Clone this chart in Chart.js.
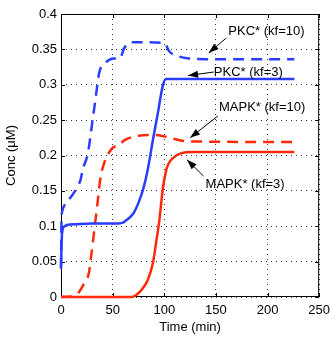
<!DOCTYPE html>
<html>
<head>
<meta charset="utf-8">
<script src="https://cdn.jsdelivr.net/npm/chart.js"></script>
<style>
  html, body { margin: 0; padding: 0; background: #fff; }
  #wrap { width: 336px; height: 339px; position: relative; }
</style>
</head>
<body>
<div id="wrap"><canvas id="concChart"></canvas></div>
<script>
// values (time in min, conc in uM)
const pkc10Time = [0, 0.5, 1, 3.5, 10, 16, 19, 21, 26, 30.6, 33.8, 37, 43, 51, 57.5, 60.6, 64, 67, 80, 100, 105, 114, 125, 140, 226];
const pkc10Conc = [0.04, 0.11, 0.12, 0.13, 0.142, 0.156, 0.166, 0.18, 0.203, 0.25, 0.284, 0.317, 0.331, 0.337, 0.338, 0.35, 0.357, 0.36, 0.36, 0.359, 0.347, 0.34, 0.337, 0.336, 0.336];

const pkc3Time = [0, 1, 3.5, 6.6, 15, 30, 56, 60, 62, 70, 75, 79.5, 84, 89, 93.8, 98.5, 101.6, 110, 226];
const pkc3Conc = [0.042, 0.09, 0.1, 0.102, 0.103, 0.104, 0.104, 0.105, 0.107, 0.118, 0.133, 0.152, 0.18, 0.222, 0.26, 0.298, 0.308, 0.308, 0.308];

const mapk10Time = [0, 14.5, 22.4, 27, 28.7, 31.9, 35, 38, 41.7, 49.5, 56, 62, 68.5, 75, 84, 92, 100, 111, 122, 226];
const mapk10Conc = [0, 0.003, 0.019, 0.034, 0.052, 0.09, 0.128, 0.166, 0.189, 0.21, 0.215, 0.222, 0.226, 0.228, 0.229, 0.229, 0.227, 0.223, 0.22, 0.219];

const mapk3Time = [0, 68.5, 78, 84, 89, 92, 95.3, 98.5, 102, 104, 108, 116, 128.5, 226];
const mapk3Conc = [0, 0, 0.01, 0.024, 0.048, 0.076, 0.109, 0.152, 0.18, 0.188, 0.196, 0.203, 0.205, 0.205];

const xTicks = [0, 50, 100, 150, 200, 250];
const yTicks = ['0', '0.05', '0.1', '0.15', '0.2', '0.25', '0.3', '0.35', '0.4'];

// text labels with arrows, anchored in data units
const notes = [
  { text: 'PKC* (kf=10)', at: [162, 0.375], from: [160, 0.366], to: [143, 0.345] },
  { text: 'PKC* (kf=3)', at: [148, 0.318], from: [148, 0.318], to: [123, 0.313] },
  { text: 'MAPK* (kf=10)', at: [153, 0.268], from: [152, 0.256], to: [125, 0.225] },
  { text: 'MAPK* (kf=3)', at: [140, 0.159], from: [138, 0.171], to: [122, 0.194] },
];

const BLUE = '#2a3dff';
const RED = '#ff2a0a';
const FONT = { family: '"Liberation Sans", Arial, sans-serif', size: 13 };

const pts = (t, v) => t.map((x, i) => ({ x, y: v[i] }));

const series = (data, color, dashed) => ({
  data,
  borderColor: color,
  borderWidth: 2.5,
  borderDash: dashed ? [11, 7] : [],
  pointRadius: 0,
  fill: false,
  clip: 3,
  cubicInterpolationMode: 'monotone',
});

// box, inward tick marks and the arrow labels
const decor = {
  id: 'decor',
  beforeDatasetsDraw(chart) {
    const { ctx, chartArea: a, scales: { x, y } } = chart;
    ctx.save();
    ctx.strokeStyle = '#000';
    ctx.lineWidth = 1;
    ctx.setLineDash([]);
    ctx.strokeRect(a.left + 0.5, a.top + 0.5, a.right - a.left - 1, a.bottom - a.top - 1);
    ctx.beginPath();
    xTicks.forEach((t) => {
      const px = Math.round(x.getPixelForValue(t)) + 0.5;
      ctx.moveTo(px, a.bottom); ctx.lineTo(px, a.bottom - 4);
      ctx.moveTo(px, a.top); ctx.lineTo(px, a.top + 4);
    });
    yTicks.forEach((t) => {
      const py = Math.round(y.getPixelForValue(parseFloat(t))) + 0.5;
      ctx.moveTo(a.left, py); ctx.lineTo(a.left + 4, py);
      ctx.moveTo(a.right, py); ctx.lineTo(a.right - 4, py);
    });
    ctx.stroke();
    ctx.restore();
  },
  afterDatasetsDraw(chart) {
    const { ctx, scales: { x, y } } = chart;
    ctx.save();
    ctx.strokeStyle = '#000';
    ctx.fillStyle = '#000';
    ctx.lineWidth = 1;
    ctx.font = `${FONT.size}px ${FONT.family}`;
    ctx.textBaseline = 'middle';
    ctx.textAlign = 'left';
    notes.forEach((n) => {
      ctx.fillText(n.text, x.getPixelForValue(n.at[0]), y.getPixelForValue(n.at[1]));
      const x1 = x.getPixelForValue(n.from[0]);
      const y1 = y.getPixelForValue(n.from[1]);
      const x2 = x.getPixelForValue(n.to[0]);
      const y2 = y.getPixelForValue(n.to[1]);
      const ang = Math.atan2(y2 - y1, x2 - x1);
      ctx.beginPath();
      ctx.moveTo(x1, y1);
      ctx.lineTo(x2, y2);
      ctx.stroke();
      ctx.beginPath();
      ctx.moveTo(x2, y2);
      ctx.lineTo(x2 - 10 * Math.cos(ang) + 3.5 * Math.sin(ang), y2 - 10 * Math.sin(ang) - 3.5 * Math.cos(ang));
      ctx.lineTo(x2 - 10 * Math.cos(ang) - 3.5 * Math.sin(ang), y2 - 10 * Math.sin(ang) + 3.5 * Math.cos(ang));
      ctx.closePath();
      ctx.fill();
    });
    ctx.restore();
  },
};

new Chart(document.getElementById('concChart'), {
  type: 'line',
  data: {
    datasets: [
      series(pts(pkc3Time, pkc3Conc), BLUE, false),
      series(pts(mapk3Time, mapk3Conc), RED, false),
      series(pts(pkc10Time, pkc10Conc), BLUE, true),
      series(pts(mapk10Time, mapk10Conc), RED, true),
    ],
  },
  options: {
    responsive: true,
    maintainAspectRatio: false,
    animation: false,
    layout: { padding: { top: 14, right: 11, left: 0, bottom: 0 } },
    plugins: { legend: { display: false }, tooltip: { enabled: false } },
    scales: {
      x: {
        type: 'linear',
        min: 0,
        max: 250,
        afterBuildTicks: (s) => { s.ticks = xTicks.map((v) => ({ value: v })); },
        afterFit: (s) => { s.height = 42; },
        ticks: { color: '#000', font: FONT, padding: 6, maxRotation: 0, callback: (v) => String(v) },
        grid: { color: '#333', lineWidth: 1, drawTicks: false },
        border: { display: false, dash: [1, 4] },
        title: { display: true, text: 'Time (min)', color: '#000', font: FONT, padding: { top: 0, bottom: 4 } },
      },
      y: {
        type: 'linear',
        min: 0,
        max: 0.4,
        afterBuildTicks: (s) => { s.ticks = yTicks.map((v) => ({ value: parseFloat(v) })); },
        afterFit: (s) => { s.width = 61; },
        ticks: { color: '#000', font: FONT, padding: 4, callback: (v, i) => yTicks[i] },
        grid: { color: '#333', lineWidth: 1, drawTicks: false },
        border: { display: false, dash: [1, 4] },
        title: { display: true, text: 'Conc (μM)', color: '#000', font: FONT, padding: { top: 4, bottom: 0 } },
      },
    },
  },
  plugins: [decor],
});
</script>
</body>
</html>
